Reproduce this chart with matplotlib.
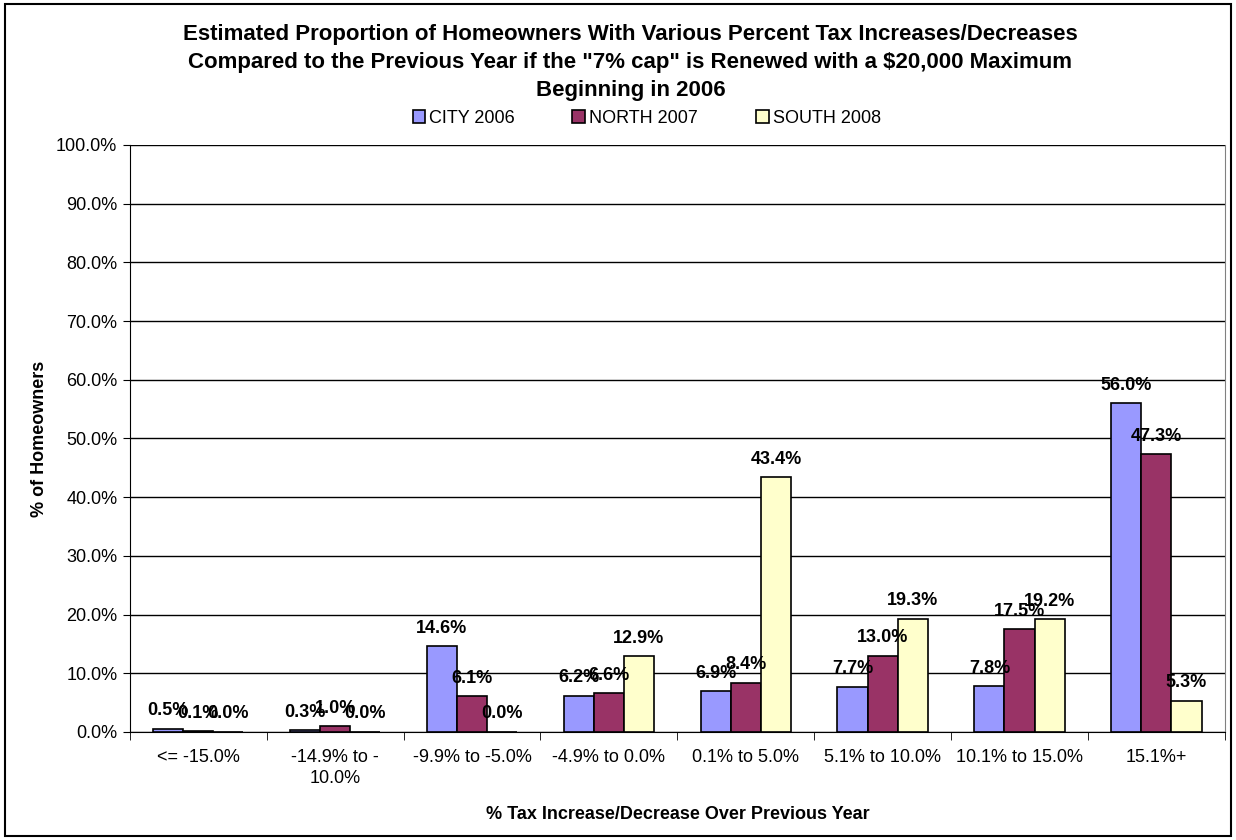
import numpy as np
import matplotlib.pyplot as plt
from matplotlib.patches import Rectangle, Patch
from matplotlib.ticker import FuncFormatter, FixedLocator

plt.rcParams['font.family'] = ['Liberation Sans', 'DejaVu Sans']

categories = ['<= -15.0%', '-14.9% to -\n10.0%', '-9.9% to -5.0%', '-4.9% to 0.0%',
              '0.1% to 5.0%', '5.1% to 10.0%', '10.1% to 15.0%', '15.1%+']
city = [0.5, 0.3, 14.6, 6.2, 6.9, 7.7, 7.8, 56.0]
north = [0.1, 1.0, 6.1, 6.6, 8.4, 13.0, 17.5, 47.3]
south = [0.0, 0.0, 0.0, 12.9, 43.4, 19.3, 19.2, 5.3]
series = [('CITY 2006', city, '#9999FF'),
          ('NORTH 2007', north, '#993366'),
          ('SOUTH 2008', south, '#FFFFCC')]

fig = plt.figure(figsize=(12.36, 8.4), dpi=100)
ax = fig.add_axes([0.105, 0.1286, 0.886, 0.6988])

x = np.arange(len(categories))
w = 0.22
for i, (name, vals, col) in enumerate(series):
    pos = x + (i - 1) * w
    ax.bar(pos, vals, w, color=col, edgecolor='black', linewidth=1.2,
           label=name, zorder=3)
    for xp, v in zip(pos, vals):
        ax.annotate(f'{v:.1f}%', (xp, v), xytext=(0, 13), textcoords='offset points',
                    ha='center', va='center', fontsize=13, fontweight='bold', zorder=4)

ax.set_xlim(-0.5, len(categories) - 0.5)
ax.set_ylim(0, 100)
ax.set_yticks(np.arange(0, 101, 10))
ax.yaxis.set_major_formatter(FuncFormatter(lambda v, p: f'{v:.1f}%'))
ax.grid(axis='y', color='black', linewidth=1, zorder=0)
ax.set_xticks(x)
ax.set_xticklabels(categories, fontsize=13, linespacing=1.3)
ax.tick_params(axis='x', length=0, pad=12)
ax.xaxis.set_minor_locator(FixedLocator(np.arange(-0.5, len(categories), 1)))
ax.tick_params(axis='x', which='minor', length=6, color='black')
ax.tick_params(axis='y', labelsize=13, length=5, color='black', pad=4)

ax.spines['top'].set_visible(False)
ax.spines['right'].set_color('#808080')
ax.spines['left'].set_color('black')
ax.spines['bottom'].set_color('black')

ax.set_ylabel('% of Homeowners', fontsize=13, fontweight='bold', labelpad=6)
ax.set_xlabel('% Tax Increase/Decrease Over Previous Year', fontsize=13,
              fontweight='bold', labelpad=14)

fig.text(0.51, 0.972, 'Estimated Proportion of Homeowners With Various Percent Tax Increases/Decreases\n'
         'Compared to the Previous Year if the "7% cap" is Renewed with a $20,000 Maximum\n'
         'Beginning in 2006', ha='center', va='top', fontsize=16, fontweight='bold',
         linespacing=1.45)

# legend entries spread like the original
leg_x = [0.334, 0.463, 0.612]
for lx, (name, vals, col) in zip(leg_x, series):
    h = Patch(facecolor=col, edgecolor='black', linewidth=1.2)
    fig.legend([h], [name], loc='center left', bbox_to_anchor=(lx, 0.859),
               frameon=False, fontsize=13, handlelength=0.7, handleheight=0.7,
               handletextpad=0.2, borderpad=0, borderaxespad=0)

fig.patches.append(Rectangle((0.004, 0.005), 0.992, 0.99, transform=fig.transFigure,
                             fill=False, edgecolor='black', linewidth=1.5))

fig.savefig('out.png', dpi=100)
